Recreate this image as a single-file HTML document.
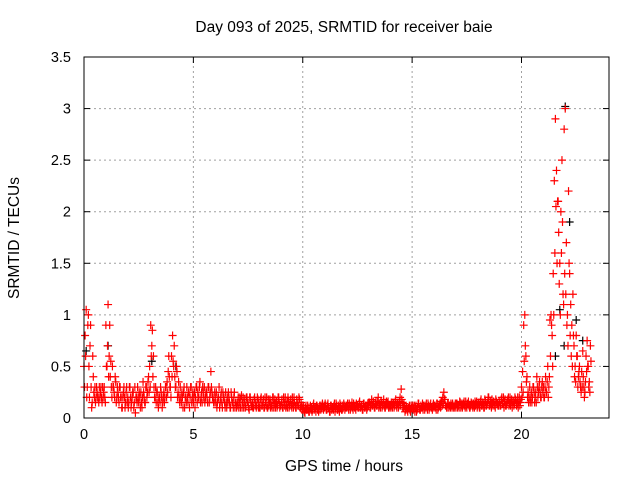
<!DOCTYPE html>
<html><head><meta charset="utf-8"><style>
body{margin:0;background:#fff}
svg{display:block;font-family:"Liberation Sans",sans-serif}
</style></head><body>
<svg id="chart" width="640" height="480" viewBox="0 0 640 480">
<rect width="640" height="480" fill="#fff"/>
<text x="344" y="32" font-size="15.5" text-anchor="middle">Day 093 of 2025, SRMTID for receiver baie</text>
<text x="344" y="471" font-size="15.5" text-anchor="middle">GPS time / hours</text>
<text transform="translate(19,238) rotate(-90)" font-size="15.5" text-anchor="middle">SRMTID / TECUs</text>
<g id="grid"></g>
<g id="ticks"></g>
<g id="marks"></g>
<rect x="84" y="57" width="525" height="361" fill="none" stroke="#000" stroke-width="1"/>
</svg>
<script>
const xTicks=[0,5,10,15,20];
const yTicks=[0,0.5,1,1.5,2,2.5,3,3.5];
const yTickLabels=["0","0.5","1","1.5","2","2.5","3","3.5"];
const startHour=0, stepHour=0.05;
const bandA=[
0.5,0.8,1.05,0.3,1.0,0.2,0.9,0.1,0.6,0.25,0.3,0.2,0.25,0.2,0.3,0.25,0.2,0.3,0.25,0.2,
0.9,0.5,1.1,0.6,0.4,0.3,0.5,0.3,0.2,0.35,0.2,0.25,0.15,0.3,0.2,0.1,0.25,0.2,0.15,0.3,
0.2,0.15,0.3,0.1,0.2,0.25,0.15,0.05,0.2,0.3,0.15,0.2,0.25,0.1,0.35,0.2,0.15,0.3,0.25,0.4,
0.5,0.9,0.7,0.4,0.3,0.2,0.15,0.25,0.1,0.2,0.3,0.2,0.15,0.25,0.2,0.3,0.35,0.45,0.4,0.3,
0.6,0.8,0.5,0.4,0.3,0.45,0.25,0.2,0.3,0.15,0.2,0.25,0.1,0.2,0.3,0.15,0.25,0.2,0.3,0.2,
0.15,0.25,0.2,0.3,0.25,0.2,0.35,0.2,0.15,0.25,0.3,0.2,0.25,0.15,0.3,0.2,0.45,0.25,0.2,0.15,
0.2,0.25,0.15,0.2,0.1,0.2,0.15,0.25,0.2,0.1,0.15,0.2,0.25,0.15,0.1,0.2,0.15,0.2,0.1,0.15,
0.12,0.2,0.15,0.1,0.22,0.15,0.1,0.18,0.12,0.2,0.15,0.08,0.2,0.12,0.15,0.1,0.2,0.15,0.12,0.18,
0.15,0.1,0.2,0.12,0.18,0.1,0.15,0.2,0.1,0.12,0.18,0.15,0.1,0.2,0.14,0.1,0.16,0.12,0.2,0.1,
0.12,0.18,0.1,0.15,0.2,0.12,0.1,0.16,0.12,0.18,0.1,0.14,0.2,0.12,0.1,0.15,0.12,0.18,0.1,0.12,
0.08,0.1,0.05,0.12,0.08,0.1,0.06,0.12,0.1,0.08,0.14,0.1,0.06,0.12,0.1,0.08,0.12,0.1,0.14,0.08,
0.1,0.12,0.08,0.14,0.1,0.06,0.12,0.1,0.08,0.14,0.1,0.12,0.08,0.1,0.14,0.12,0.08,0.1,0.12,0.1,
0.1,0.14,0.08,0.12,0.1,0.15,0.08,0.12,0.1,0.14,0.12,0.1,0.16,0.1,0.12,0.08,0.14,0.1,0.12,0.1,
0.12,0.15,0.1,0.18,0.12,0.14,0.1,0.16,0.12,0.2,0.14,0.1,0.15,0.12,0.18,0.1,0.14,0.12,0.16,0.1,
0.12,0.15,0.1,0.14,0.12,0.18,0.1,0.15,0.12,0.2,0.28,0.15,0.1,0.12,0.08,0.1,0.06,0.1,0.08,0.12,
0.1,0.08,0.12,0.1,0.06,0.1,0.14,0.08,0.12,0.1,0.08,0.12,0.1,0.14,0.08,0.12,0.1,0.14,0.1,0.12,
0.1,0.12,0.08,0.14,0.1,0.12,0.1,0.16,0.2,0.25,0.18,0.12,0.1,0.14,0.12,0.1,0.12,0.14,0.1,0.12,
0.1,0.14,0.12,0.1,0.15,0.12,0.1,0.14,0.12,0.16,0.1,0.14,0.12,0.1,0.15,0.12,0.14,0.1,0.12,0.16,
0.12,0.15,0.1,0.18,0.12,0.14,0.1,0.16,0.12,0.15,0.2,0.12,0.14,0.18,0.12,0.15,0.1,0.16,0.14,0.12,
0.15,0.12,0.2,0.14,0.1,0.18,0.12,0.16,0.2,0.14,0.12,0.18,0.15,0.12,0.2,0.16,0.14,0.1,0.2,0.15,
0.3,0.45,0.9,1.0,0.6,0.4,0.25,0.2,0.15,0.25,0.2,0.3,0.15,0.25,0.4,0.2,0.3,0.25,0.2,0.35,
0.3,0.2,0.4,0.25,0.5,0.3,0.95,1.0,0.8,1.4,2.3,2.9,2.4,2.1,1.8,1.5,2.0,2.5,1.2,2.8,
3.0,1.7,1.0,2.2,1.4,1.1,0.9,1.2,0.7,0.5,0.8,0.6,0.4,0.5,0.3,0.45,0.65,0.3,0.25,0.6,
0.75,0.5,0.35,0.7];
const bandB=[
0.3,0.6,0.2,0.9,0.5,0.7,0.3,0.15,0.4,0.2,0.15,0.3,0.2,0.15,0.2,0.3,0.15,0.2,0.3,0.15,
0.5,0.7,0.4,0.9,0.55,0.2,0.3,0.25,0.4,0.15,0.3,0.2,0.3,0.2,0.1,0.2,0.3,0.1,0.25,0.15,
0.1,0.3,0.2,0.15,0.25,0.1,0.3,0.2,0.15,0.2,0.25,0.1,0.15,0.2,0.25,0.15,0.3,0.2,0.35,0.25,
0.3,0.6,0.85,0.6,0.2,0.3,0.25,0.15,0.2,0.15,0.25,0.1,0.2,0.15,0.3,0.2,0.25,0.6,0.3,0.2,
0.4,0.55,0.7,0.3,0.5,0.2,0.35,0.15,0.2,0.25,0.1,0.3,0.2,0.15,0.2,0.25,0.1,0.3,0.15,0.25,
0.2,0.1,0.3,0.15,0.2,0.3,0.15,0.25,0.3,0.2,0.15,0.25,0.2,0.3,0.15,0.25,0.3,0.2,0.15,0.25,
0.15,0.1,0.2,0.3,0.15,0.25,0.1,0.2,0.15,0.25,0.1,0.15,0.2,0.1,0.25,0.15,0.1,0.25,0.15,0.1,
0.15,0.1,0.2,0.18,0.1,0.2,0.15,0.1,0.2,0.15,0.1,0.2,0.15,0.12,0.1,0.18,0.12,0.1,0.2,0.1,
0.1,0.18,0.12,0.15,0.1,0.2,0.12,0.1,0.18,0.15,0.1,0.12,0.2,0.1,0.18,0.14,0.1,0.2,0.15,0.12,
0.15,0.1,0.2,0.12,0.1,0.16,0.2,0.1,0.15,0.12,0.2,0.1,0.15,0.1,0.18,0.12,0.2,0.1,0.15,0.1,
0.12,0.06,0.1,0.08,0.12,0.06,0.1,0.08,0.06,0.12,0.08,0.1,0.12,0.08,0.06,0.12,0.08,0.12,0.1,0.12,
0.14,0.08,0.12,0.1,0.06,0.12,0.08,0.1,0.12,0.06,0.14,0.08,0.12,0.06,0.1,0.08,0.12,0.14,0.08,0.12,
0.12,0.1,0.14,0.08,0.12,0.1,0.14,0.1,0.08,0.12,0.1,0.14,0.1,0.12,0.08,0.14,0.1,0.12,0.08,0.14,
0.15,0.1,0.14,0.12,0.16,0.1,0.14,0.12,0.16,0.1,0.12,0.16,0.1,0.14,0.12,0.1,0.16,0.14,0.1,0.12,
0.1,0.12,0.15,0.1,0.16,0.12,0.14,0.1,0.16,0.12,0.18,0.1,0.14,0.06,0.12,0.08,0.1,0.12,0.06,0.1,
0.12,0.1,0.06,0.12,0.08,0.14,0.1,0.08,0.1,0.14,0.12,0.08,0.12,0.1,0.14,0.08,0.12,0.1,0.08,0.14,
0.12,0.1,0.14,0.08,0.12,0.14,0.16,0.12,0.14,0.18,0.12,0.1,0.14,0.1,0.12,0.14,0.1,0.12,0.1,0.14,
0.14,0.1,0.12,0.16,0.1,0.14,0.12,0.16,0.1,0.12,0.14,0.16,0.1,0.12,0.14,0.1,0.12,0.16,0.14,0.1,
0.14,0.1,0.16,0.12,0.15,0.1,0.18,0.12,0.14,0.2,0.12,0.16,0.1,0.14,0.16,0.12,0.18,0.14,0.12,0.16,
0.12,0.18,0.14,0.2,0.16,0.12,0.14,0.18,0.12,0.2,0.15,0.1,0.16,0.14,0.18,0.12,0.2,0.15,0.12,0.18,
0.2,0.25,0.55,0.7,0.35,0.2,0.15,0.3,0.2,0.15,0.3,0.25,0.2,0.15,0.3,0.25,0.35,0.2,0.3,0.25,
0.2,0.3,0.25,0.35,0.2,0.4,0.6,0.9,0.5,1.0,1.6,2.05,1.5,2.1,1.3,1.0,1.6,1.9,1.1,1.4,
1.2,0.9,0.7,1.5,0.8,0.6,0.5,0.8,0.4,0.35,0.6,0.3,0.45,0.35,0.25,0.3,0.4,0.2,0.35,0.45,
0.5,0.3,0.25,0.55];
const blackTimes=[0.1,1.1,3.1,4.2,21.55,21.75,21.95,22.0,22.2,22.5,22.8];
const blackValues=[0.65,0.7,0.55,0.5,0.6,1.05,0.7,3.02,1.9,0.95,0.75];

const X0=84,X1=609,Y0=418,Y1=57,XMAX=24,YMAX=3.5;
const xs=v=>X0+(v/XMAX)*(X1-X0);
const ys=v=>Y0-(v/YMAX)*(Y0-Y1);
const NS="http://www.w3.org/2000/svg";
const grid=document.getElementById('grid'),ticks=document.getElementById('ticks'),marks=document.getElementById('marks');
function mk(tag,attrs,parent){const e=document.createElementNS(NS,tag);for(const k in attrs)e.setAttribute(k,attrs[k]);parent.appendChild(e);return e;}
xTicks.forEach(t=>{const x=xs(t);
 if(t>0){const g=mk('line',{x1:x,x2:x,y1:Y0,y2:Y1,stroke:'#a0a0a0','stroke-dasharray':'2,3'},grid);
 
 }
 mk('line',{x1:x,x2:x,y1:Y0,y2:Y0-6,stroke:'#000'},ticks);mk('line',{x1:x,x2:x,y1:Y1,y2:Y1+6,stroke:'#000'},ticks);
 const l=mk('text',{x:x,y:Y0+21,'font-size':14.5,'text-anchor':'middle'},ticks);l.textContent=t;
 
 });
yTicks.forEach((t,i)=>{const y=ys(t);
 if(t>0&&t<YMAX){const g=mk('line',{x1:X0,x2:X1,y1:y,y2:y,stroke:'#a0a0a0','stroke-dasharray':'2,3'},grid);
 
 }
 mk('line',{x1:X0,x2:X0+6,y1:y,y2:y,stroke:'#000'},ticks);mk('line',{x1:X1,x2:X1-6,y1:y,y2:y,stroke:'#000'},ticks);
 const l=mk('text',{x:X0-13,y:y+5,'font-size':14.5,'text-anchor':'end'},ticks);l.textContent=yTickLabels[i];
 
 });
function plus(t,v,col,name){const x=xs(t),y=ys(v);
 const p=mk('path',{d:`M${x-4},${y}H${x+4}M${x},${y-4}V${y+4}`,stroke:col,'stroke-width':1.2,fill:'none'},marks);
 
 }
blackTimes.forEach((t,i)=>plus(t,blackValues[i],'#000','black-point'));
bandA.forEach((v,i)=>plus(startHour+i*stepHour,v,'#f00','red-point'));
bandB.forEach((v,i)=>plus(startHour+i*stepHour+0.025,v,'#f00','red-point'));
</script>
</body></html>
